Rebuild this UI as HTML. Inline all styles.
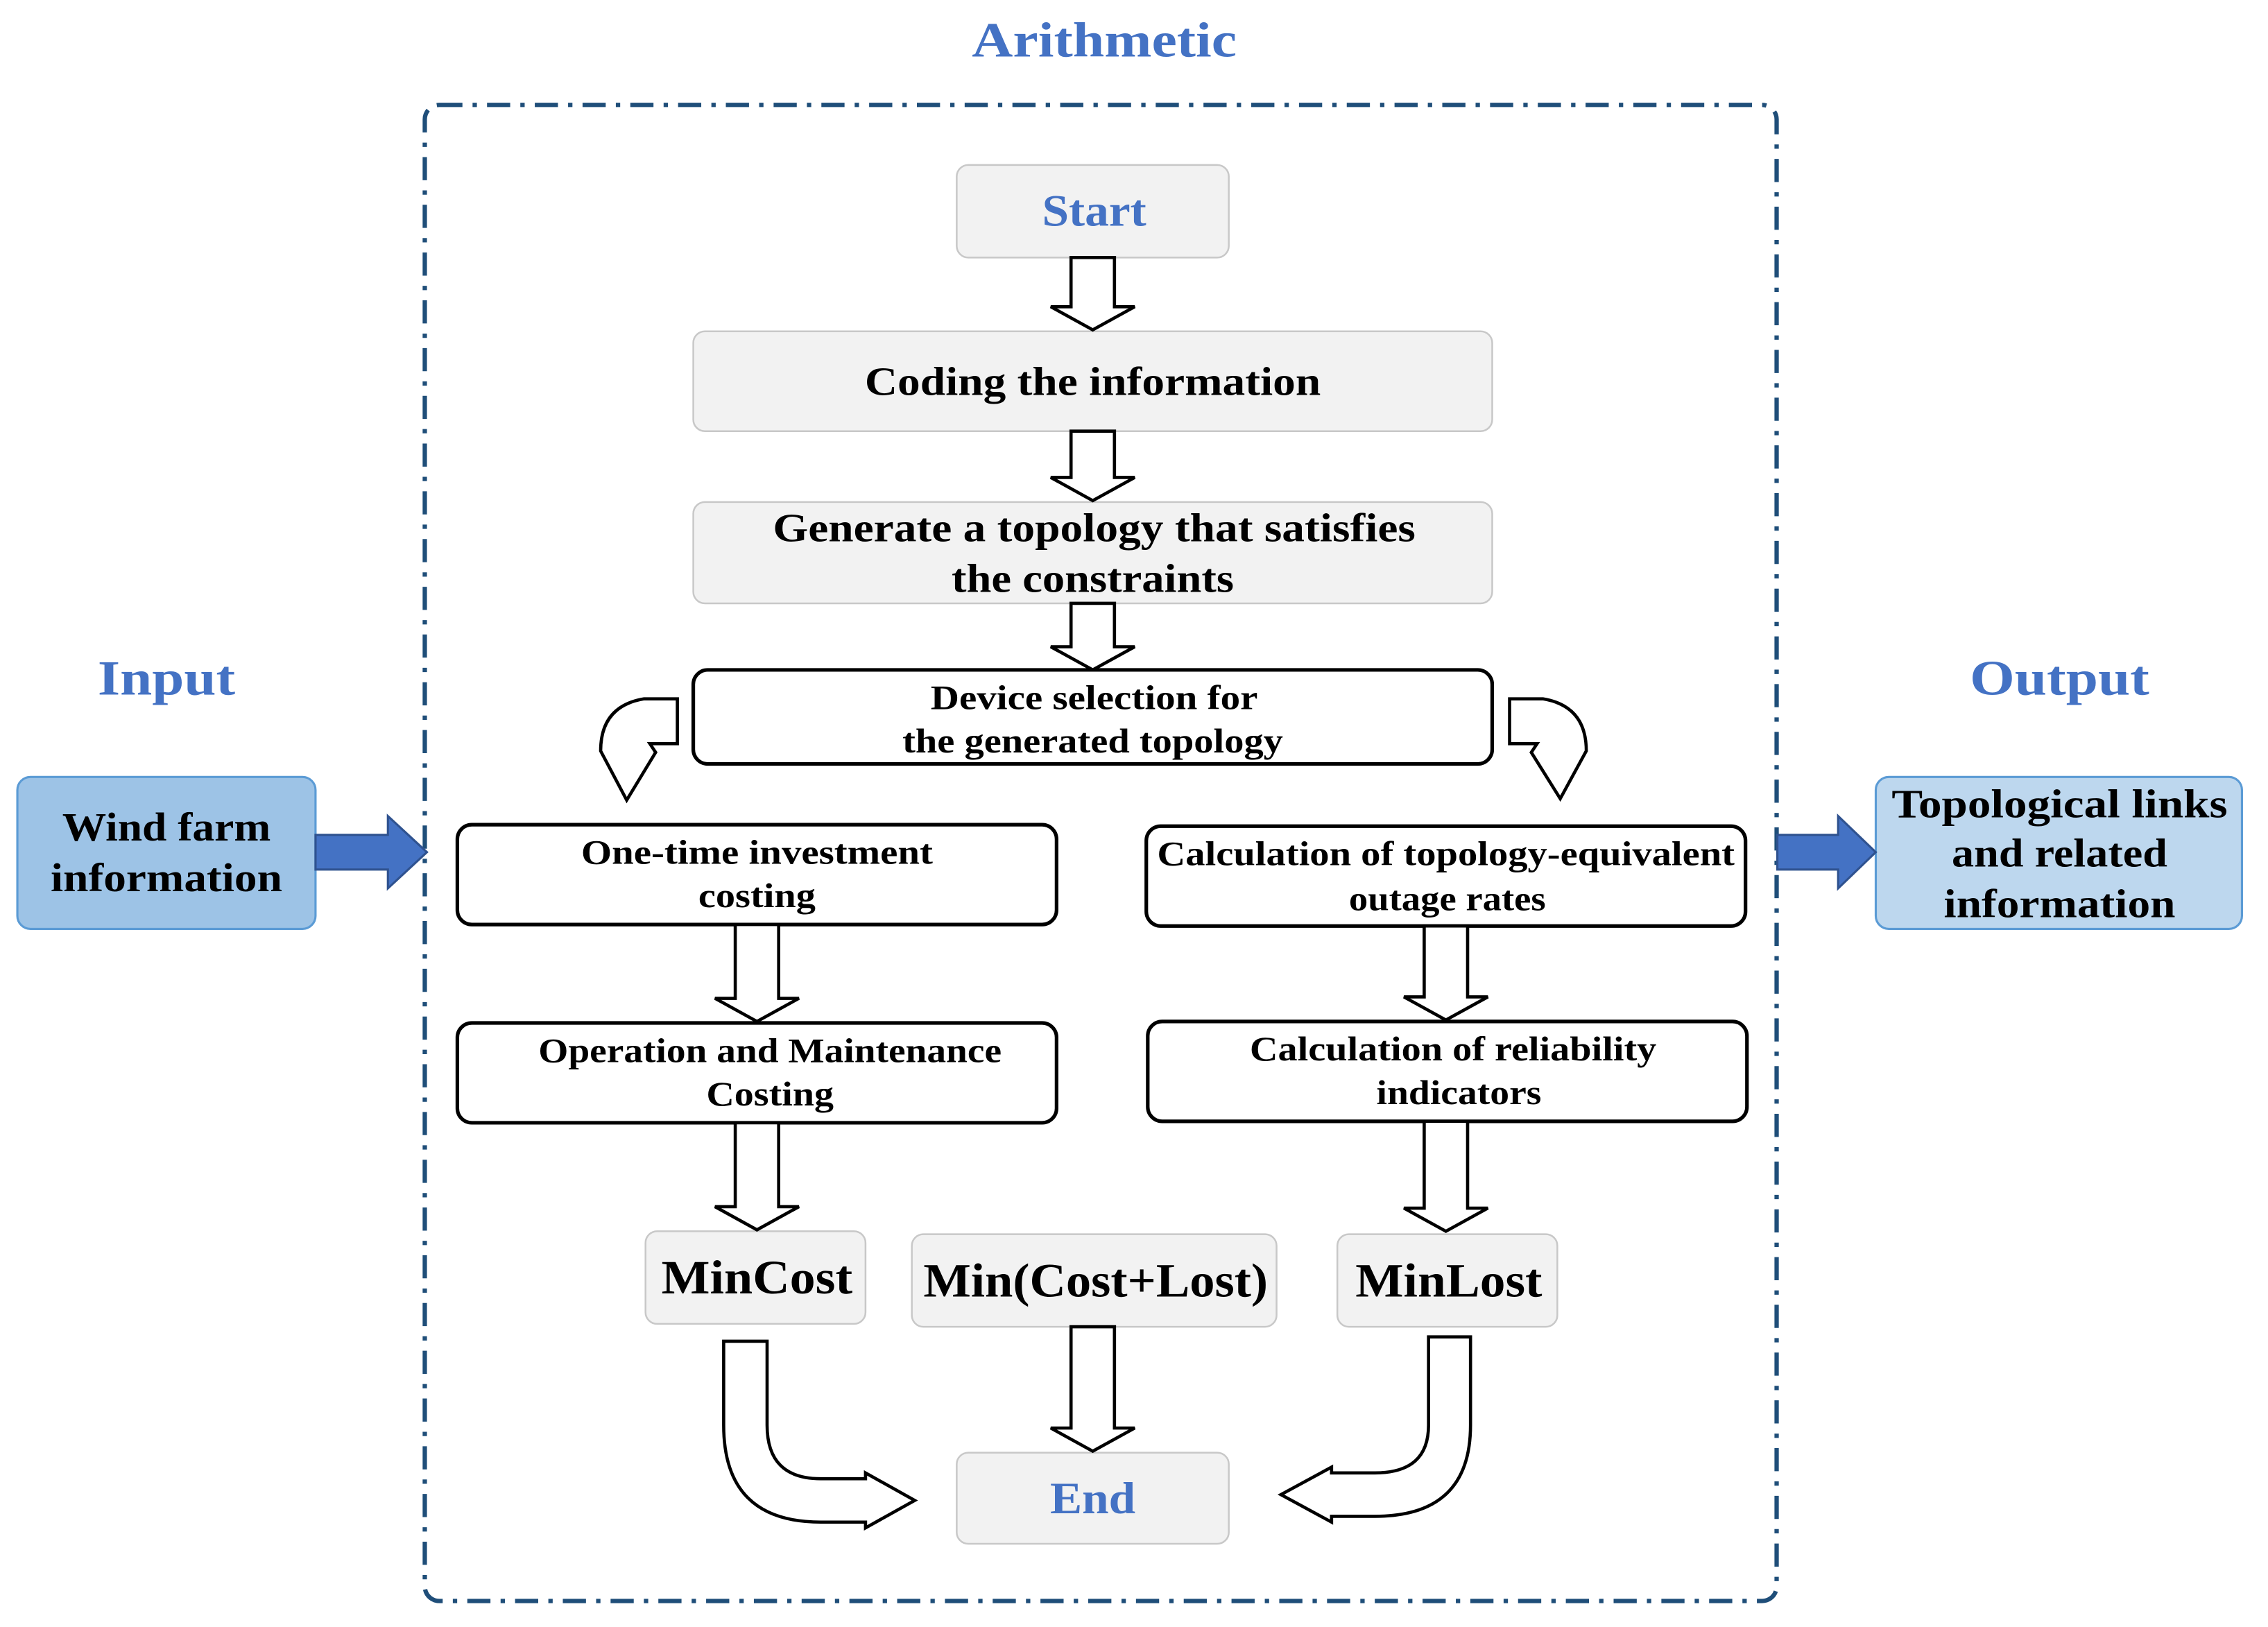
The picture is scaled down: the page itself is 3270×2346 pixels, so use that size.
<!DOCTYPE html>
<html><head><meta charset="utf-8"><style>
html,body{margin:0;padding:0;background:#fff;}
svg{display:block;}
text{font-family:"Liberation Serif",serif;font-weight:bold;text-anchor:middle;}
</style></head><body>
<svg width="3270" height="2346" viewBox="0 0 1567 1124.5" preserveAspectRatio="none" xmlns="http://www.w3.org/2000/svg">
<rect x="0" y="0" width="1567" height="1125" fill="#fff"/>
<text x="763" y="39" font-size="34" fill="#4472c4" textLength="183" lengthAdjust="spacingAndGlyphs">Arithmetic</text>
<rect x="293.5" y="72.5" width="934" height="1034" rx="10" fill="none" stroke="#1f4e79" stroke-width="3" stroke-dasharray="16 7 3 7"/>

<text x="115" y="480" font-size="34" fill="#4472c4" textLength="95" lengthAdjust="spacingAndGlyphs">Input</text>
<text x="1423" y="480" font-size="34" fill="#4472c4" textLength="124" lengthAdjust="spacingAndGlyphs">Output</text>
<rect x="12" y="537" width="206" height="105" rx="9" fill="#9dc3e6" stroke="#5b9bd5" stroke-width="1.5"/>
<text x="115" y="581" font-size="28" fill="#000" textLength="144" lengthAdjust="spacingAndGlyphs">Wind farm</text>
<text x="115" y="616" font-size="28" fill="#000" textLength="160" lengthAdjust="spacingAndGlyphs">information</text>
<rect x="1296" y="537" width="253" height="105" rx="9" fill="#bdd7ee" stroke="#5b9bd5" stroke-width="1.5"/>
<text x="1423" y="565" font-size="28" fill="#000" textLength="232" lengthAdjust="spacingAndGlyphs">Topological links</text>
<text x="1423" y="599" font-size="28" fill="#000" textLength="149" lengthAdjust="spacingAndGlyphs">and related</text>
<text x="1423" y="634" font-size="28" fill="#000" textLength="160" lengthAdjust="spacingAndGlyphs">information</text>
<polygon points="218,577 268,577 268,564 295,589 268,614 268,601 218,601" fill="#4472c4" stroke="#2f528f" stroke-width="1.5"/>
<polygon points="1228,577 1270,577 1270,564 1296,589 1270,614 1270,601 1228,601" fill="#4472c4" stroke="#2f528f" stroke-width="1.5"/>

<g fill="#f2f2f2" stroke="#c8c8c8" stroke-width="1.2">
<rect x="661" y="114" width="188" height="64" rx="8"/>
<rect x="479" y="229" width="552" height="69" rx="8"/>
<rect x="479" y="347" width="552" height="70" rx="8"/>
<rect x="446" y="851" width="152" height="64" rx="8"/>
<rect x="630" y="853" width="252" height="64" rx="8"/>
<rect x="924" y="853" width="152" height="64" rx="8"/>
<rect x="661" y="1004" width="188" height="63" rx="8"/>
</g>
<text x="756" y="156" font-size="31" fill="#4472c4" textLength="72" lengthAdjust="spacingAndGlyphs">Start</text>
<text x="755" y="273" font-size="28" fill="#000" textLength="315" lengthAdjust="spacingAndGlyphs">Coding the information</text>
<text x="756" y="374" font-size="28" fill="#000" textLength="444" lengthAdjust="spacingAndGlyphs">Generate a topology that satisfies</text>
<text x="755" y="409" font-size="28" fill="#000" textLength="195" lengthAdjust="spacingAndGlyphs">the constraints</text>
<text x="523" y="894" font-size="33" fill="#000" textLength="132" lengthAdjust="spacingAndGlyphs">MinCost</text>
<text x="757" y="896" font-size="33" fill="#000" textLength="238" lengthAdjust="spacingAndGlyphs">Min(Cost+Lost)</text>
<text x="1001" y="896" font-size="33" fill="#000" textLength="129" lengthAdjust="spacingAndGlyphs">MinLost</text>
<text x="755" y="1046" font-size="31" fill="#4472c4" textLength="59" lengthAdjust="spacingAndGlyphs">End</text>

<g fill="#fff" stroke="#000" stroke-width="2.5">
<rect x="479" y="463" width="552" height="65" rx="10"/>
<rect x="316" y="570" width="414" height="69" rx="10"/>
<rect x="792" y="571" width="414" height="69" rx="10"/>
<rect x="316" y="707" width="414" height="69" rx="10"/>
<rect x="793" y="706" width="414" height="69" rx="10"/>
</g>
<g font-size="24" fill="#000" lengthAdjust="spacingAndGlyphs">
<text x="756" y="490" textLength="226" lengthAdjust="spacingAndGlyphs">Device selection for</text>
<text x="755" y="520" textLength="263" lengthAdjust="spacingAndGlyphs">the generated topology</text>
<text x="523" y="597" textLength="243" lengthAdjust="spacingAndGlyphs">One-time investment</text>
<text x="523" y="627" textLength="81" lengthAdjust="spacingAndGlyphs">costing</text>
<text x="999" y="598" textLength="399" lengthAdjust="spacingAndGlyphs">Calculation of topology-equivalent</text>
<text x="1000" y="629" textLength="136" lengthAdjust="spacingAndGlyphs">outage rates</text>
<text x="532" y="734" textLength="320" lengthAdjust="spacingAndGlyphs">Operation and Maintenance</text>
<text x="532" y="764" textLength="88" lengthAdjust="spacingAndGlyphs">Costing</text>
<text x="1004" y="733" textLength="281" lengthAdjust="spacingAndGlyphs">Calculation of reliability</text>
<text x="1008" y="763" textLength="114" lengthAdjust="spacingAndGlyphs">indicators</text>
</g>

<g fill="#fff" stroke="#000" stroke-width="2.2" stroke-linejoin="miter">
<polygon points="740,178 770,178 770,212 784,212 755,228 726,212 740,212"/>
<polygon points="740,298 770,298 770,330 784,330 755,346 726,330 740,330"/>
<polygon points="740,417 770,417 770,447 784,447 755,463 726,447 740,447"/>
<polygon points="508,639 538,639 538,690 552,690 523,706 494,690 508,690"/>
<polygon points="984,640 1014,640 1014,689 1028,689 999,705 970,689 984,689"/>
<polygon points="508,776 538,776 538,834 552,834 523,850 494,834 508,834"/>
<polygon points="984,775 1014,775 1014,835 1028,835 999,851 970,835 984,835"/>
<polygon points="740,917 770,917 770,987 784,987 755,1003 726,987 740,987"/>
<path d="M468 483 L445 483 Q415 488 415 519 L433 553 L453 520 L449 514 L468 514 Z"/>
<path d="M1043 483 L1066 483 Q1096 488 1096 519 L1078 552 L1058 520 L1062 514 L1043 514 Z"/>
<path d="M500 927 L530 927 L530 985 Q530 1022 567 1022 L598 1022 L598 1018 L632 1037 L598 1056 L598 1052 L567 1052 Q500 1052 500 985 Z"/>
<path d="M1016 924 L987 924 L987 985 Q987 1018 950 1018 L920 1018 L920 1014 L885 1033 L920 1052 L920 1048 L950 1048 Q1016 1048 1016 985 Z"/>
</g>
</svg>
</body></html>
